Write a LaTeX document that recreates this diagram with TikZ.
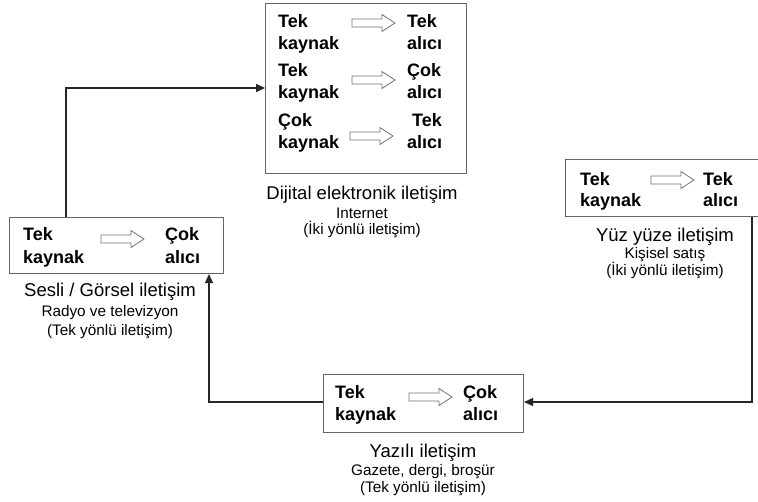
\documentclass[tikz,border=0pt]{standalone}
\usepackage{fontspec}
\setmainfont{Liberation Sans}
\usetikzlibrary{arrows.meta}
\tikzset{
  box/.style={draw=black!60, line width=1pt, fill=none, inner sep=0pt, anchor=north west},
  conn/.style={draw=black!85, line width=1.3pt, -{Triangle[length=9pt,width=8pt]}},
  bt/.style={font=\fontsize{18}{20}\selectfont\bfseries, anchor=base west, inner sep=0pt},
  captxt/.style={font=\fontsize{18.5}{20}\selectfont, anchor=base, inner sep=0pt},
  subtxt/.style={font=\fontsize{15.3}{17}\selectfont, anchor=base, inner sep=0pt},
  barrow/.pic={\draw[draw=black!55, fill=white, line width=0.8pt]
     (0,-4) -- (30,-4) -- (30,-8.5) -- (43,0) -- (30,8.5) -- (30,4) -- (0,4) -- cycle;}
}
\begin{document}
\begin{tikzpicture}[x=1pt,y=-1pt]
\useasboundingbox (0,0) rectangle (758,501);
% boxes
\node[box, minimum width=201pt, minimum height=170pt] (top) at (265,3) {};
\node[box, minimum width=214pt, minimum height=56pt] (left) at (9,217) {};
\node[box, minimum width=200pt, minimum height=57pt] (right) at (565,159) {};
\node[box, minimum width=200pt, minimum height=58pt] (bottom) at (323,374) {};
% top box contents
\node[bt] (t1a) at (278,27) {Tek};
\node[bt] (t1b) at (278,49) {kaynak};
\pic at (352,23) {barrow};
\node[bt] (t1c) at (407,27) {Tek};
\node[bt] (t1d) at (407,49) {alıcı};
\node[bt] (t2a) at (278,76) {Tek};
\node[bt] (t2b) at (278,98) {kaynak};
\pic at (352,80) {barrow};
\node[bt] (t2c) at (407,76) {Çok};
\node[bt] (t2d) at (407,98) {alıcı};
\node[bt] (t3a) at (278,126) {Çok};
\node[bt] (t3b) at (278,148) {kaynak};
\pic at (350,136) {barrow};
\node[bt] (t3c) at (412,126) {Tek};
\node[bt] (t3d) at (407,148) {alıcı};
\node[captxt] (tc1) at (362,199) {Dijital elektronik iletişim};
\node[subtxt] (tc2) at (362,218) {Internet};
\node[subtxt] (tc3) at (362,234) {(İki yönlü iletişim)};
% left box contents
\node[bt] (l1) at (23,240) {Tek};
\node[bt] (l2) at (23,263) {kaynak};
\pic at (101,239) {barrow};
\node[bt] (l3) at (165,240) {Çok};
\node[bt] (l4) at (165,263) {alıcı};
\node[captxt] (lc1) at (110,296) {Sesli / Görsel iletişim};
\node[subtxt] (lc2) at (110,316) {Radyo ve televizyon};
\node[subtxt] (lc3) at (110,335) {(Tek yönlü iletişim)};
% right box contents
\node[bt] (r1) at (580,185) {Tek};
\node[bt] (r2) at (580,206) {kaynak};
\pic at (651,180) {barrow};
\node[bt] (r3) at (703,185) {Tek};
\node[bt] (r4) at (703,206) {alıcı};
\node[captxt] (rc1) at (665,241) {Yüz yüze iletişim};
\node[subtxt] (rc2) at (665,258) {Kişisel satış};
\node[subtxt] (rc3) at (665,275) {(İki yönlü iletişim)};
% bottom box contents
\node[bt] (b1) at (335,398) {Tek};
\node[bt] (b2) at (335,420) {kaynak};
\pic at (409,397) {barrow};
\node[bt] (b3) at (463,398) {Çok};
\node[bt] (b4) at (463,420) {alıcı};
\node[captxt] (bc1) at (423,457) {Yazılı iletişim};
\node[subtxt] (bc2) at (423,475) {Gazete, dergi, broşür};
\node[subtxt] (bc3) at (423,492) {(Tek yönlü iletişim)};
% connectors
\coordinate (c1) at (66,88);
\coordinate (c2) at (752,402);
\coordinate (c3) at (209,402);
\draw[conn] (left.north -| c1) |- (top.west |- c1);
\draw[conn] (right.south -| c2) |- (bottom.east |- c2);
\draw[conn] (bottom.west |- c3) -| (left.south -| c3);
\end{tikzpicture}
\end{document}
